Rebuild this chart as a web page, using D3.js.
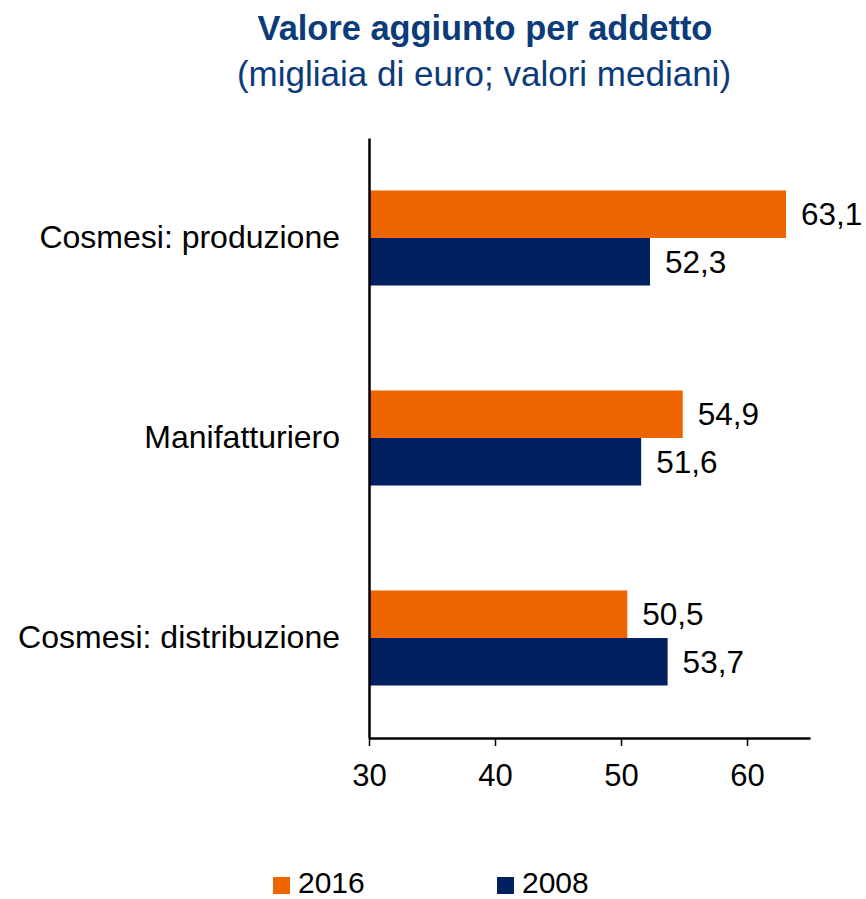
<!DOCTYPE html>
<html>
<head>
<meta charset="utf-8">
<style>
  body { margin: 0; background: #fff; }
  svg text { font-family: "Liberation Sans", Arial, sans-serif; }
</style>
</head>
<body>
<svg width="866" height="899"></svg>
<script src="https://d3js.org/d3.v7.min.js"></script>
<script>

var categories = ["Cosmesi: produzione", "Manifatturiero", "Cosmesi: distribuzione"];
var series = ["2016", "2008"];
var values2016 = [63.1, 54.9, 50.5];
var values2008 = [52.3, 51.6, 53.7];
var xTicks = [30, 40, 50, 60];
var colors = ["#ec6500", "#002060"];

var svg = d3.select("svg"),
    margin = {top: 138, right: 56, bottom: 161, left: 369},
    width = +svg.attr("width") - margin.left - margin.right,
    height = +svg.attr("height") - margin.top - margin.bottom,
    g = svg.append("g").attr("transform", "translate(" + margin.left + "," + margin.top + ")");

var data = categories.map(function(c, i) {
  return {cat: c, "2016": values2016[i], "2008": values2008[i]};
});

var x = d3.scaleLinear().domain([30, 65]).range([0, width]);

var y0 = d3.scaleBand().domain(categories).range([0, height]).padding(0);

var y1 = d3.scaleBand().domain(series)
    .range([0, y0.bandwidth()])
    .paddingInner(0)
    .paddingOuter(1.105);

var z = d3.scaleOrdinal().domain(series).range(colors);

var fmt = function(v) { return d3.format(".1f")(v).replace(".", ","); };

// titles
svg.append("text")
    .attr("x", 485).attr("y", 40)
    .attr("text-anchor", "middle")
    .attr("font-size", 34.4).attr("font-weight", "bold")
    .attr("fill", "#0b3b7a")
    .text("Valore aggiunto per addetto");

svg.append("text")
    .attr("x", 484).attr("y", 86)
    .attr("text-anchor", "middle")
    .attr("font-size", 35)
    .attr("fill", "#0b3b7a")
    .text("(migliaia di euro; valori mediani)");

// bars
var groups = g.append("g")
  .selectAll("g")
  .data(data)
  .enter().append("g")
    .attr("transform", function(d) { return "translate(0," + y0(d.cat) + ")"; });

groups.selectAll("rect")
  .data(function(d) { return series.map(function(k) { return {key: k, value: d[k]}; }); })
  .enter().append("rect")
    .attr("x", x(30))
    .attr("y", function(d) { return y1(d.key); })
    .attr("width", function(d) { return x(d.value) - x(30); })
    .attr("height", y1.bandwidth())
    .attr("fill", function(d) { return z(d.key); });

groups.selectAll("text.val")
  .data(function(d) { return series.map(function(k) { return {key: k, value: d[k]}; }); })
  .enter().append("text")
    .attr("class", "val")
    .attr("x", function(d) { return x(d.value) + 15; })
    .attr("y", function(d) { return y1(d.key) + y1.bandwidth() / 2; })
    .attr("dy", "0.35em")
    .attr("font-size", 31.5)
    .attr("fill", "#000")
    .text(function(d) { return fmt(d.value); });

// x axis
var xAxis = g.append("g")
    .attr("transform", "translate(0," + height + ")")
    .call(d3.axisBottom(x).tickValues(xTicks).tickSizeInner(8).tickSizeOuter(0).tickPadding(18));
xAxis.select(".domain").attr("stroke", "#000").attr("stroke-width", 2.5);
xAxis.selectAll(".tick line").attr("stroke", "#000").attr("stroke-width", 1.5);
xAxis.selectAll(".tick text")
    .attr("font-size", 31)
    .attr("font-family", "Liberation Sans, Arial, sans-serif")
    .attr("fill", "#000");

// y axis
var yAxis = g.append("g")
    .call(d3.axisLeft(y0).tickSize(0).tickPadding(29));
yAxis.select(".domain").attr("stroke", "#000").attr("stroke-width", 2.5);
yAxis.selectAll(".tick text")
    .attr("font-size", 32)
    .attr("font-family", "Liberation Sans, Arial, sans-serif")
    .attr("fill", "#000");

// legend
var legendX = [273, 497];
var legend = svg.append("g")
  .selectAll("g")
  .data(series)
  .enter().append("g")
    .attr("transform", function(d, i) { return "translate(" + legendX[i] + ",877)"; });

legend.append("rect")
    .attr("width", 17)
    .attr("height", 17)
    .attr("fill", z);

legend.append("text")
    .attr("x", 25)
    .attr("y", 16)
    .attr("font-size", 30)
    .attr("fill", "#000")
    .text(function(d) { return d; });

</script>
</body>
</html>
